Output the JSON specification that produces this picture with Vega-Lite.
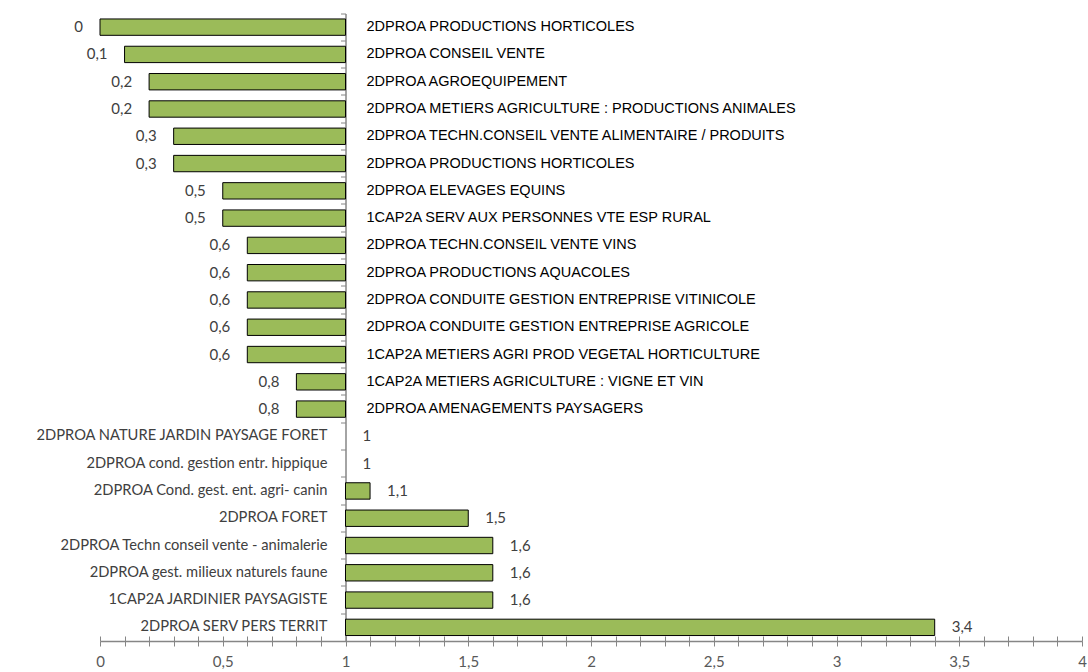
{
  "$schema": "https://vega.github.io/schema/vega-lite/v6.json",
  "width": 982,
  "height": 627.5,
  "autosize": {"type": "none"},
  "padding": {"left": 100, "top": 13.5, "right": 6, "bottom": 31},
  "background": "#ffffff",
  "config": {
    "view": {"stroke": null},
    "locale": {"number": {"decimal": ",", "thousands": "\u00a0", "grouping": [3], "currency": ["", " €"]}}
  },
  "data": {
    "values": [
      {"id": 1, "name": "2DPROA PRODUCTIONS HORTICOLES", "value": 0},
      {"id": 2, "name": "2DPROA CONSEIL VENTE", "value": 0.1},
      {"id": 3, "name": "2DPROA AGROEQUIPEMENT", "value": 0.2},
      {"id": 4, "name": "2DPROA METIERS AGRICULTURE : PRODUCTIONS ANIMALES", "value": 0.2},
      {"id": 5, "name": "2DPROA TECHN.CONSEIL VENTE ALIMENTAIRE / PRODUITS", "value": 0.3},
      {"id": 6, "name": "2DPROA PRODUCTIONS HORTICOLES", "value": 0.3},
      {"id": 7, "name": "2DPROA ELEVAGES EQUINS", "value": 0.5},
      {"id": 8, "name": "1CAP2A SERV AUX PERSONNES VTE ESP RURAL", "value": 0.5},
      {"id": 9, "name": "2DPROA TECHN.CONSEIL VENTE VINS", "value": 0.6},
      {"id": 10, "name": "2DPROA PRODUCTIONS AQUACOLES", "value": 0.6},
      {"id": 11, "name": "2DPROA CONDUITE GESTION ENTREPRISE VITINICOLE", "value": 0.6},
      {"id": 12, "name": "2DPROA CONDUITE GESTION ENTREPRISE AGRICOLE", "value": 0.6},
      {"id": 13, "name": "1CAP2A METIERS AGRI PROD VEGETAL HORTICULTURE", "value": 0.6},
      {"id": 14, "name": "1CAP2A METIERS AGRICULTURE : VIGNE ET VIN", "value": 0.8},
      {"id": 15, "name": "2DPROA AMENAGEMENTS PAYSAGERS", "value": 0.8},
      {"id": 16, "name": "2DPROA NATURE JARDIN PAYSAGE FORET", "value": 1},
      {"id": 17, "name": "2DPROA cond. gestion entr. hippique", "value": 1},
      {"id": 18, "name": "2DPROA Cond. gest. ent. agri- canin", "value": 1.1},
      {"id": 19, "name": "2DPROA FORET", "value": 1.5},
      {"id": 20, "name": "2DPROA Techn conseil vente - animalerie", "value": 1.6},
      {"id": 21, "name": "2DPROA gest. milieux naturels faune", "value": 1.6},
      {"id": 22, "name": "1CAP2A JARDINIER PAYSAGISTE", "value": 1.6},
      {"id": 23, "name": "2DPROA SERV PERS TERRIT", "value": 3.4}
    ]
  },
  "encoding": {
    "y": {
      "field": "id",
      "type": "ordinal",
      "scale": {"paddingInner": 0, "paddingOuter": 0},
      "axis": {
        "orient": "left",
        "offset": -245.5,
        "labels": false,
        "title": null,
        "bandPosition": 0,
        "ticks": true,
        "tickSize": 5,
        "tickColor": "#868686",
        "domainColor": "#868686",
        "domainWidth": 1.5,
        "grid": false
      }
    }
  },
  "resolve": {"axis": {"x": "independent"}},
  "layer": [
    {
      "transform": [{"filter": "datum.value != 1"}],
      "mark": {"type": "bar", "height": {"band": 0.6}, "fill": "#9BBB59", "stroke": "#000000", "strokeWidth": 1},
      "encoding": {
        "x": {
          "field": "value",
          "type": "quantitative",
          "scale": {"domain": [0, 4], "nice": false, "zero": false},
          "axis": {
            "orient": "bottom",
            "title": null,
            "grid": false,
            "values": [0, 0.1, 0.2, 0.3, 0.4, 0.5, 0.6, 0.7, 0.8, 0.9, 1, 1.1, 1.2, 1.3, 1.4, 1.5, 1.6, 1.7, 1.8, 1.9, 2, 2.1, 2.2, 2.3, 2.4, 2.5, 2.6, 2.7, 2.8, 2.9, 3, 3.1, 3.2, 3.3, 3.4, 3.5, 3.6, 3.7, 3.8, 3.9, 4],
            "format": "~g",
            "labelExpr": "round(datum.value * 10) % 5 == 0 ? datum.label : ''",
            "labelOverlap": false,
            "labelFlush": false,
            "labelFont": "Lato",
            "labelFontSize": 15,
            "labelColor": "#595959",
            "labelPadding": 8,
            "tickSize": 5,
            "tickColor": "#868686",
            "domainColor": "#868686",
            "domainWidth": 1.5
          }
        },
        "x2": {"datum": 1}
      }
    },
    {
      "transform": [{"filter": "datum.value < 1"}],
      "mark": {"type": "text", "align": "right", "baseline": "middle", "dx": -17, "font": "Lato", "fontSize": 15, "fill": "#404040"},
      "encoding": {
        "x": {
          "field": "value",
          "type": "quantitative",
          "axis": {
            "orient": "bottom",
            "title": null,
            "grid": false,
            "labels": false,
            "domain": false,
            "values": [0, 0.1, 0.2, 0.3, 0.4, 0.5, 0.6, 0.7, 0.8, 0.9, 1, 1.1, 1.2, 1.3, 1.4, 1.5, 1.6, 1.7, 1.8, 1.9, 2, 2.1, 2.2, 2.3, 2.4, 2.5, 2.6, 2.7, 2.8, 2.9, 3, 3.1, 3.2, 3.3, 3.4, 3.5, 3.6, 3.7, 3.8, 3.9, 4],
            "tickSize": -5,
            "tickColor": "#868686"
          }
        },
        "text": {"field": "value", "type": "quantitative", "format": "~g"}
      }
    },
    {
      "transform": [{"filter": "datum.value < 1"}],
      "mark": {"type": "text", "align": "left", "baseline": "middle", "dx": 21, "font": "Liberation Sans", "fontSize": 14.5, "fill": "#000000"},
      "encoding": {
        "x": {"datum": 1, "type": "quantitative", "axis": null},
        "text": {"field": "name", "type": "nominal"}
      }
    },
    {
      "transform": [{"filter": "datum.value >= 1"}],
      "mark": {"type": "text", "align": "right", "baseline": "middle", "dx": -18, "font": "Lato", "fontSize": 14.7, "fill": "#404040"},
      "encoding": {
        "x": {"datum": 1, "type": "quantitative", "axis": null},
        "text": {"field": "name", "type": "nominal"}
      }
    },
    {
      "transform": [{"filter": "datum.value >= 1"}],
      "mark": {"type": "text", "align": "left", "baseline": "middle", "dx": 17, "font": "Lato", "fontSize": 15, "fill": "#404040"},
      "encoding": {
        "x": {"field": "value", "type": "quantitative", "axis": null},
        "text": {"field": "value", "type": "quantitative", "format": "~g"}
      }
    }
  ]
}
